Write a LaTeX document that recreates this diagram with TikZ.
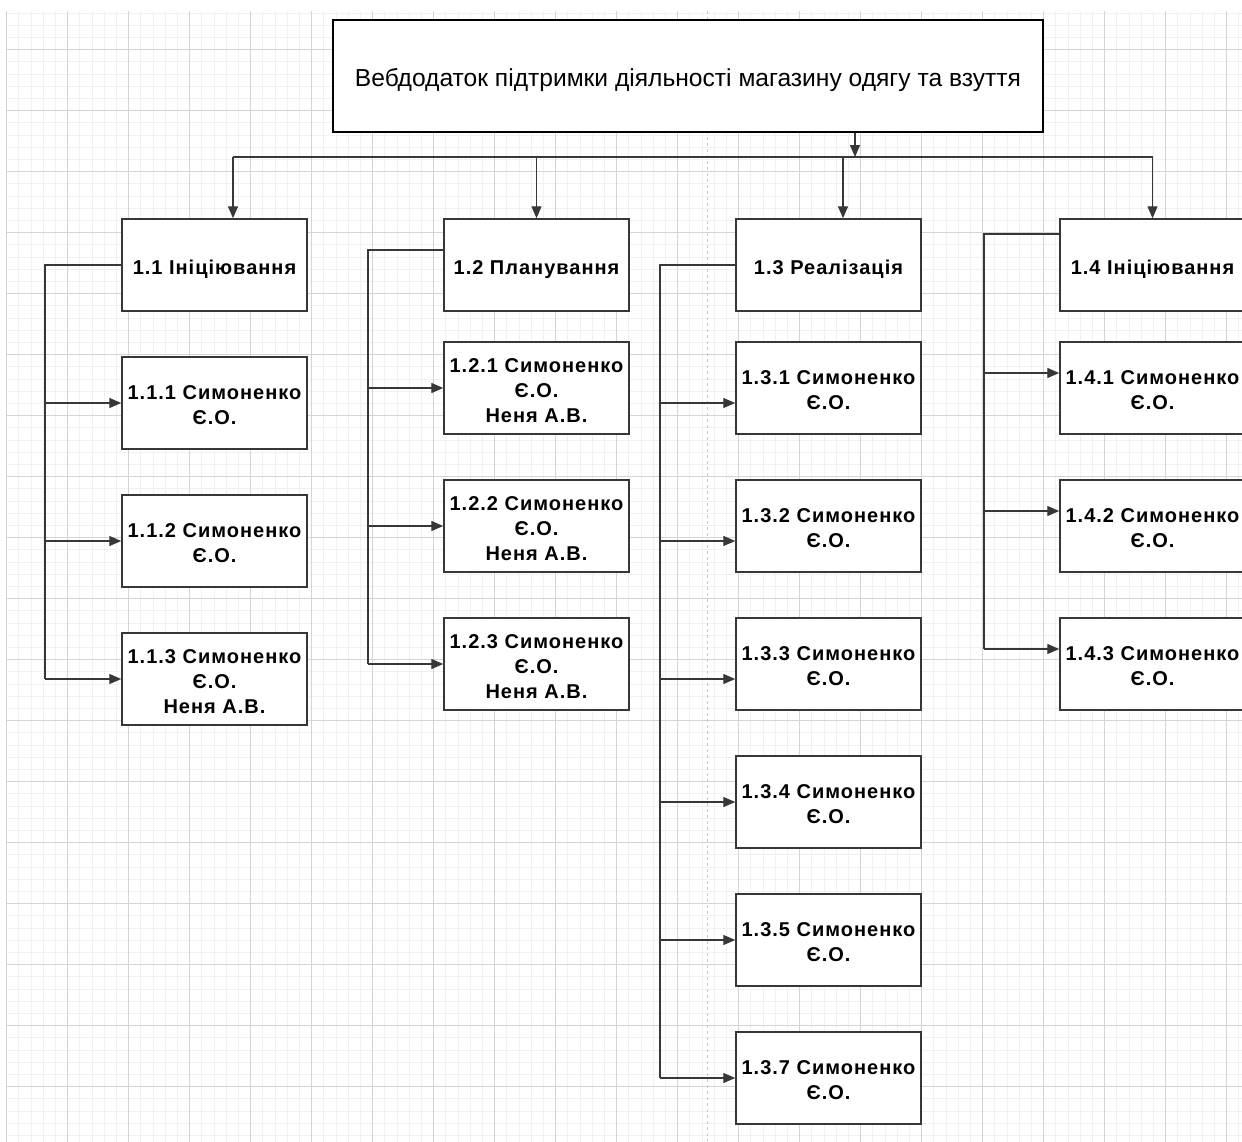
\documentclass[tikz,border=0pt]{standalone}
\usepackage{fontspec}
\setmainfont{Liberation Sans}
\newfontfamily\taskFont{Liberation Sans}[LetterSpace=5]
\usetikzlibrary{arrows.meta, calc}
\tikzstyle{chart} = [x = 1pt, y = -1pt]
\definecolor{gridColor}{RGB}{241,241,241}
\definecolor{gridMajorColor}{RGB}{212,212,212}
\definecolor{splitColor}{RGB}{200,200,200}
\definecolor{lineColor}{RGB}{55,55,55}
\tikzstyle{gridMinor} = [color=gridColor, line width=0.8pt]
\tikzstyle{gridMajor} = [color=gridMajorColor, line width=1.2pt]
\tikzstyle{pageSplit} = [color=splitColor, line width=1pt, dash pattern=on 3pt off 3pt]
\tikzstyle{rootStyle} = [draw=black, fill=white, line width=2pt, minimum width=710pt, minimum height=112pt, inner sep=0pt, font=\fontsize{24.6}{28}\selectfont]
\tikzstyle{taskStyle} = [draw=lineColor, fill=white, line width=1.5pt, minimum width=185pt, minimum height=92pt, inner sep=0pt, align=center, font=\taskFont\fontsize{20}{25}\selectfont\bfseries]
\tikzstyle{linkLine} = [color=lineColor, line width=1.4pt]
\tikzstyle{linkArrow} = [linkLine, -{Triangle[length=12pt, width=10pt]}]
\newcommand{\lowered}[1]{\raisebox{-4pt}[\height][\depth]{#1}}
\newcommand{\taskBox}[4]{\node [taskStyle] (#1) at (#2, #3) {\lowered{\begin{tabular}{@{}c@{}}#4\end{tabular}}};}
\newcommand{\childLink}[3]{\draw [linkArrow] ($(#2.west -| #1)+(0,#3)$) -- ($(#2.west)+(0,#3)$);}
\newcommand{\trunkLine}[5]{\draw [linkLine] ($(#2.west)+(0,#4)$) -- (#1) -- ($(#1 |- #3.west)+(0,#5)$);}

\begin{document}
\begin{tikzpicture}[chart]
\useasboundingbox [fill=white] (0,0) rectangle (1242,1141);
% background grid
\begin{scope}[shift={(6.5,49.5)}]
  \draw [gridMinor, step=12.2pt] (0,-38.5) grid (1240,1095);
  \draw [gridMajor, step=61pt] (0,-38.5) grid (1240,1095);
\end{scope}
\draw [pageSplit] (707,11) -- (707,1141);

\node [rootStyle] (root) at (688,76) {\lowered{Вебдодаток підтримки діяльності магазину одягу та взуття}};

\taskBox{b11}{214.5}{265}{1.1 Ініціювання}
\taskBox{b12}{536.5}{265}{1.2 Планування}
\taskBox{b13}{828.5}{265}{1.3 Реалізація}
\taskBox{b14}{1152.5}{265}{1.4 Ініціювання}

\coordinate (bus) at (855,157);
\coordinate (busLeft) at (233,157);
\coordinate (busRight) at (1152.5,157);
\coordinate (drop3) at (843,157);
\draw [linkArrow] (root.south -| bus) -- (bus);
\draw [linkLine] (busLeft) -- (busRight);
\draw [linkArrow] (busLeft) -- (busLeft |- b11.north);
\draw [linkArrow] (b12.north |- bus) -- (b12.north);
\draw [linkArrow] (drop3) -- (drop3 |- b13.north);
\draw [linkArrow] (busRight) -- (b14.north);

% 1.1
\taskBox{c111}{214.5}{403}{1.1.1 Симоненко\\Є.О.}
\taskBox{c112}{214.5}{541}{1.1.2 Симоненко\\Є.О.}
\taskBox{c113}{214.5}{679}{1.1.3 Симоненко\\Є.О.\\Неня А.В.}
\coordinate (trunkA) at (45,265);
\trunkLine{trunkA}{b11}{c113}{0}{0}
\childLink{trunkA}{c111}{0}
\childLink{trunkA}{c112}{0}
\childLink{trunkA}{c113}{0}

% 1.2
\taskBox{c121}{536.5}{388}{1.2.1 Симоненко\\Є.О.\\Неня А.В.}
\taskBox{c122}{536.5}{526}{1.2.2 Симоненко\\Є.О.\\Неня А.В.}
\taskBox{c123}{536.5}{664}{1.2.3 Симоненко\\Є.О.\\Неня А.В.}
\coordinate (trunkB) at (368,250);
\trunkLine{trunkB}{b12}{c123}{-15}{0}
\childLink{trunkB}{c121}{0}
\childLink{trunkB}{c122}{0}
\childLink{trunkB}{c123}{0}

% 1.3
\taskBox{c131}{828.5}{388}{1.3.1 Симоненко\\Є.О.}
\taskBox{c132}{828.5}{526}{1.3.2 Симоненко\\Є.О.}
\taskBox{c133}{828.5}{664}{1.3.3 Симоненко\\Є.О.}
\taskBox{c134}{828.5}{802}{1.3.4 Симоненко\\Є.О.}
\taskBox{c135}{828.5}{940}{1.3.5 Симоненко\\Є.О.}
\taskBox{c137}{828.5}{1078}{1.3.7 Симоненко\\Є.О.}
\coordinate (trunkC) at (660,265);
\trunkLine{trunkC}{b13}{c137}{0}{0}
\childLink{trunkC}{c131}{15}
\childLink{trunkC}{c132}{15}
\childLink{trunkC}{c133}{15}
\childLink{trunkC}{c134}{0}
\childLink{trunkC}{c135}{0}
\childLink{trunkC}{c137}{0}

% 1.4
\taskBox{c141}{1152.5}{388}{1.4.1 Симоненко\\Є.О.}
\taskBox{c142}{1152.5}{526}{1.4.2 Симоненко\\Є.О.}
\taskBox{c143}{1152.5}{664}{1.4.3 Симоненко\\Є.О.}
\coordinate (trunkD) at (984,234);
\trunkLine{trunkD}{b14}{c143}{-31}{-15}
\childLink{trunkD}{c141}{-15}
\childLink{trunkD}{c142}{-15}
\childLink{trunkD}{c143}{-15}
\end{tikzpicture}
\end{document}
